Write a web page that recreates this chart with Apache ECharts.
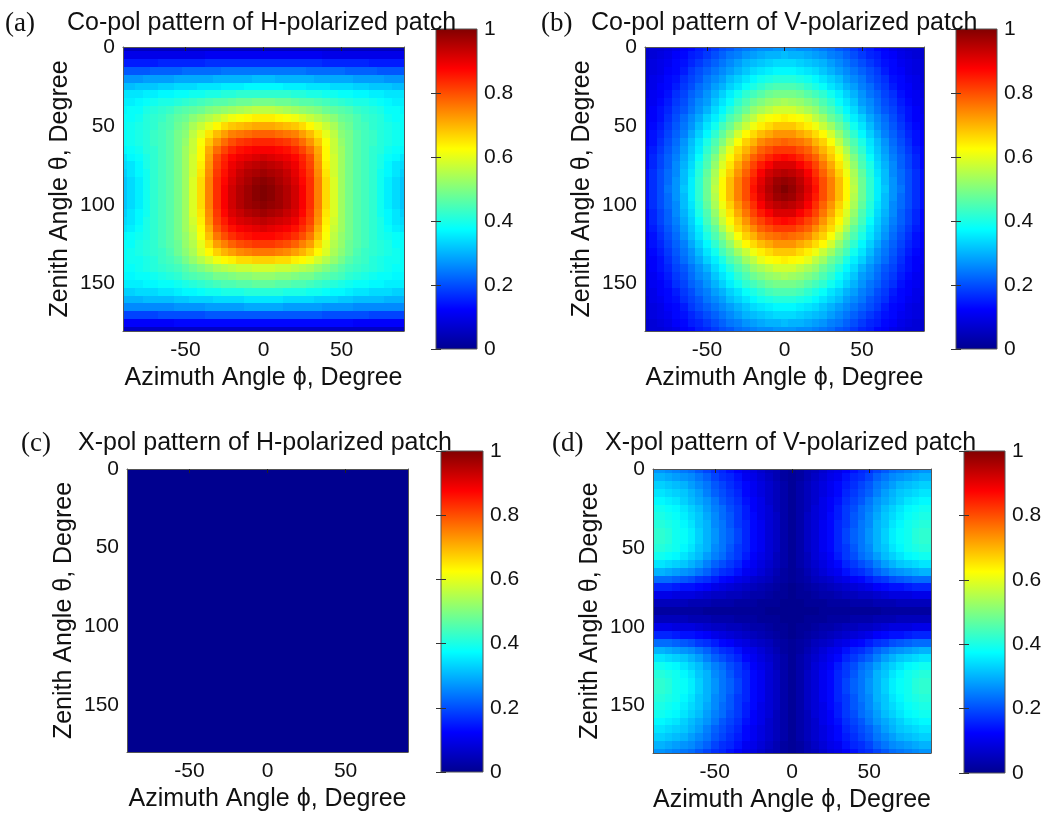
<!DOCTYPE html>
<html>
<head>
<meta charset="utf-8">
<title>Co-pol / X-pol patterns of H- and V-polarized patches</title>
<script src="https://cdn.jsdelivr.net/npm/echarts@6/dist/echarts.min.js"></script>
<style>
  html, body { margin: 0; padding: 0; background: #ffffff; }
  #chart { width: 1047px; height: 818px; }
</style>
</head>
<body>
<div id="chart"></div>
<script>
// Sampling grid of the normalised radiation patterns (degrees, 5 degree steps)
const phiDeg = [-90,-85,-80,-75,-70,-65,-60,-55,-50,-45,-40,-35,-30,-25,-20,-15,-10,-5,0,5,10,15,20,25,30,35,40,45,50,55,60,65,70,75,80,85,90];
const thetaDeg = [0,5,10,15,20,25,30,35,40,45,50,55,60,65,70,75,80,85,90,95,100,105,110,115,120,125,130,135,140,145,150,155,160,165,170,175,180];

// Axis tick labels
const phiTicks   = [-50, 0, 50];
const thetaTicks = [0, 50, 100, 150];
const barTicks   = [0, 0.2, 0.4, 0.6, 0.8, 1];
const barRange   = [0, 1];

// Panel captions
const panelTags   = ['(a)', '(b)', '(c)', '(d)'];
const panelTitles = [
  'Co-pol pattern of H-polarized patch',
  'Co-pol pattern of V-polarized patch',
  'X-pol pattern of H-polarized patch',
  'X-pol pattern of V-polarized patch'
];
const xAxisName = 'Azimuth Angle \u03D5, Degree';
const yAxisName = 'Zenith Angle \u03B8, Degree';

// (a) co-pol, H-polarized patch: one row per theta, one column per phi
const copolH = [
  [.05,.05,.05,.05,.05,.05,.05,.05,.05,.05,.05,.05,.05,.05,.05,.05,.05,.05,.05,.05,.05,.05,.05,.05,.05,.05,.05,.05,.05,.05,.05,.05,.05,.05,.05,.05,.05],
  [.10,.10,.10,.10,.10,.10,.10,.10,.10,.10,.10,.11,.11,.11,.11,.11,.11,.11,.11,.11,.11,.11,.11,.11,.11,.11,.10,.10,.10,.10,.10,.10,.10,.10,.10,.10,.10],
  [.15,.15,.15,.15,.15,.16,.16,.16,.16,.16,.16,.17,.17,.17,.17,.17,.17,.17,.17,.17,.17,.17,.17,.17,.17,.17,.16,.16,.16,.16,.16,.16,.15,.15,.15,.15,.15],
  [.21,.21,.21,.21,.22,.22,.22,.22,.23,.23,.23,.23,.23,.24,.24,.24,.24,.24,.24,.24,.24,.24,.24,.24,.23,.23,.23,.23,.23,.22,.22,.22,.22,.21,.21,.21,.21],
  [.27,.27,.27,.28,.28,.28,.28,.29,.29,.29,.29,.29,.30,.30,.30,.30,.30,.31,.31,.31,.30,.30,.30,.30,.30,.29,.29,.29,.29,.29,.28,.28,.28,.28,.27,.27,.27],
  [.31,.31,.32,.32,.32,.33,.33,.34,.34,.34,.35,.35,.35,.36,.36,.36,.37,.37,.37,.37,.37,.36,.36,.36,.35,.35,.35,.34,.34,.34,.33,.33,.32,.32,.32,.31,.31],
  [.35,.35,.35,.36,.36,.37,.37,.38,.38,.39,.39,.40,.40,.41,.41,.42,.42,.42,.42,.42,.42,.42,.41,.41,.40,.40,.39,.39,.38,.38,.37,.37,.36,.36,.35,.35,.35],
  [.36,.36,.37,.38,.39,.40,.40,.41,.42,.43,.44,.45,.46,.46,.47,.48,.48,.49,.49,.49,.48,.48,.47,.46,.46,.45,.44,.43,.42,.41,.40,.40,.39,.38,.37,.36,.36],
  [.37,.38,.38,.40,.41,.42,.43,.45,.46,.47,.48,.50,.51,.52,.53,.54,.55,.56,.56,.56,.55,.54,.53,.52,.51,.50,.48,.47,.46,.45,.43,.42,.41,.40,.38,.38,.37],
  [.38,.38,.39,.41,.42,.43,.45,.47,.48,.51,.53,.55,.57,.59,.61,.62,.63,.64,.64,.64,.63,.62,.61,.59,.57,.55,.53,.51,.48,.47,.45,.43,.42,.41,.39,.38,.38],
  [.38,.39,.40,.41,.42,.44,.45,.48,.50,.54,.57,.60,.63,.66,.68,.69,.70,.71,.71,.71,.70,.69,.68,.66,.63,.60,.57,.54,.50,.48,.45,.44,.42,.41,.40,.39,.38],
  [.38,.39,.40,.41,.43,.44,.46,.49,.51,.56,.60,.65,.69,.72,.75,.76,.77,.78,.78,.78,.77,.76,.75,.72,.69,.65,.60,.56,.51,.49,.46,.44,.43,.41,.40,.39,.38],
  [.38,.39,.40,.41,.43,.44,.46,.49,.52,.57,.62,.68,.73,.77,.80,.82,.83,.84,.84,.84,.83,.82,.80,.77,.73,.68,.62,.57,.52,.49,.46,.44,.43,.41,.40,.39,.38],
  [.37,.38,.39,.41,.42,.44,.46,.49,.53,.57,.63,.71,.77,.81,.84,.86,.87,.88,.88,.88,.87,.86,.84,.81,.77,.71,.63,.57,.53,.49,.46,.44,.42,.41,.39,.38,.37],
  [.35,.37,.38,.40,.42,.44,.46,.49,.53,.58,.63,.72,.80,.84,.87,.89,.90,.91,.92,.91,.90,.89,.87,.84,.80,.72,.63,.58,.53,.49,.46,.44,.42,.40,.38,.37,.35],
  [.34,.35,.37,.40,.42,.44,.46,.49,.53,.58,.64,.73,.81,.85,.89,.91,.93,.94,.95,.94,.93,.91,.89,.85,.81,.73,.64,.58,.53,.49,.46,.44,.42,.40,.37,.35,.34],
  [.33,.35,.37,.39,.42,.44,.46,.49,.53,.58,.65,.74,.82,.86,.90,.93,.95,.96,.97,.96,.95,.93,.90,.86,.82,.74,.65,.58,.53,.49,.46,.44,.42,.39,.37,.35,.33],
  [.32,.34,.36,.39,.42,.44,.46,.49,.53,.59,.66,.75,.83,.87,.91,.94,.96,.98,.99,.98,.96,.94,.91,.87,.83,.75,.66,.59,.53,.49,.46,.44,.42,.39,.36,.34,.32],
  [.32,.34,.36,.39,.42,.44,.46,.49,.53,.59,.66,.75,.83,.88,.92,.95,.97,.99,1.0,.99,.97,.95,.92,.88,.83,.75,.66,.59,.53,.49,.46,.44,.42,.39,.36,.34,.32],
  [.32,.34,.36,.39,.42,.44,.46,.49,.53,.59,.66,.75,.83,.88,.92,.95,.97,.99,1.0,.99,.97,.95,.92,.88,.83,.75,.66,.59,.53,.49,.46,.44,.42,.39,.36,.34,.32],
  [.32,.34,.36,.39,.42,.44,.46,.49,.53,.59,.66,.75,.83,.88,.92,.95,.97,.98,.99,.98,.97,.95,.92,.88,.83,.75,.66,.59,.53,.49,.46,.44,.42,.39,.36,.34,.32],
  [.33,.35,.37,.39,.42,.44,.46,.49,.53,.59,.65,.74,.82,.87,.91,.93,.95,.96,.97,.96,.95,.93,.91,.87,.82,.74,.65,.59,.53,.49,.46,.44,.42,.39,.37,.35,.33],
  [.34,.35,.37,.40,.42,.44,.46,.49,.53,.58,.64,.73,.81,.85,.89,.91,.92,.93,.94,.93,.92,.91,.89,.85,.81,.73,.64,.58,.53,.49,.46,.44,.42,.40,.37,.35,.34],
  [.35,.36,.38,.40,.42,.44,.46,.49,.53,.57,.63,.71,.79,.83,.86,.88,.89,.90,.91,.90,.89,.88,.86,.83,.79,.71,.63,.57,.53,.49,.46,.44,.42,.40,.38,.36,.35],
  [.37,.38,.39,.40,.42,.44,.46,.49,.52,.56,.62,.69,.76,.80,.83,.85,.86,.87,.87,.87,.86,.85,.83,.80,.76,.69,.62,.56,.52,.49,.46,.44,.42,.40,.39,.38,.37],
  [.38,.38,.40,.41,.42,.44,.46,.48,.52,.55,.60,.66,.72,.75,.78,.80,.81,.82,.82,.82,.81,.80,.78,.75,.72,.66,.60,.55,.52,.48,.46,.44,.42,.41,.40,.38,.38],
  [.38,.39,.40,.41,.42,.43,.45,.48,.51,.54,.59,.63,.67,.70,.72,.74,.75,.76,.76,.76,.75,.74,.72,.70,.67,.63,.59,.54,.51,.48,.45,.43,.42,.41,.40,.39,.38],
  [.38,.39,.39,.40,.41,.43,.44,.46,.49,.52,.55,.58,.61,.63,.64,.66,.66,.67,.67,.67,.66,.66,.64,.63,.61,.58,.55,.52,.49,.46,.44,.43,.41,.40,.39,.39,.38],
  [.38,.38,.39,.40,.41,.42,.43,.44,.46,.48,.50,.52,.54,.55,.56,.57,.57,.58,.58,.58,.57,.57,.56,.55,.54,.52,.50,.48,.46,.44,.43,.42,.41,.40,.39,.38,.38],
  [.37,.37,.38,.38,.39,.40,.41,.42,.44,.45,.46,.47,.49,.49,.50,.51,.51,.52,.52,.52,.51,.51,.50,.49,.49,.47,.46,.45,.44,.42,.41,.40,.39,.38,.38,.37,.37],
  [.36,.36,.36,.37,.37,.38,.38,.39,.40,.41,.42,.43,.44,.45,.45,.46,.46,.47,.47,.47,.46,.46,.45,.45,.44,.43,.42,.41,.40,.39,.38,.38,.37,.37,.36,.36,.36],
  [.33,.33,.34,.34,.34,.35,.35,.36,.37,.37,.38,.39,.39,.40,.40,.40,.41,.41,.41,.41,.41,.40,.40,.40,.39,.39,.38,.37,.37,.36,.35,.35,.34,.34,.34,.33,.33],
  [.30,.30,.30,.31,.31,.31,.31,.32,.32,.33,.33,.33,.34,.34,.34,.34,.35,.35,.35,.35,.35,.34,.34,.34,.34,.33,.33,.33,.32,.32,.31,.31,.31,.31,.30,.30,.30],
  [.26,.26,.26,.26,.26,.26,.26,.27,.27,.27,.27,.28,.28,.28,.28,.28,.29,.29,.29,.29,.29,.28,.28,.28,.28,.28,.27,.27,.27,.27,.26,.26,.26,.26,.26,.26,.26],
  [.19,.19,.19,.19,.19,.20,.20,.20,.20,.20,.20,.21,.21,.21,.21,.21,.21,.21,.21,.21,.21,.21,.21,.21,.21,.21,.20,.20,.20,.20,.20,.20,.19,.19,.19,.19,.19],
  [.12,.12,.12,.12,.12,.12,.12,.13,.13,.13,.13,.13,.13,.13,.13,.13,.13,.13,.13,.13,.13,.13,.13,.13,.13,.13,.13,.13,.13,.13,.12,.12,.12,.12,.12,.12,.12],
  [.06,.06,.06,.06,.06,.06,.06,.06,.06,.06,.06,.06,.06,.06,.06,.06,.06,.06,.06,.06,.06,.06,.06,.06,.06,.06,.06,.06,.06,.06,.06,.06,.06,.06,.06,.06,.06]
];

// (b) co-pol, V-polarized patch
const copolV = [
  [.07,.08,.08,.09,.10,.12,.13,.15,.16,.18,.20,.21,.23,.24,.25,.26,.26,.27,.27,.27,.26,.26,.25,.24,.23,.21,.20,.18,.16,.15,.13,.12,.10,.09,.08,.08,.07],
  [.07,.08,.09,.10,.12,.13,.15,.16,.18,.20,.22,.24,.25,.27,.28,.29,.30,.30,.31,.30,.30,.29,.28,.27,.25,.24,.22,.20,.18,.16,.15,.13,.12,.10,.09,.08,.07],
  [.08,.09,.10,.11,.13,.14,.16,.18,.20,.22,.24,.26,.28,.30,.31,.32,.33,.34,.34,.34,.33,.32,.31,.30,.28,.26,.24,.22,.20,.18,.16,.14,.13,.11,.10,.09,.08],
  [.08,.09,.10,.12,.13,.15,.18,.20,.22,.24,.26,.28,.30,.32,.34,.35,.36,.37,.37,.37,.36,.35,.34,.32,.30,.28,.26,.24,.22,.20,.18,.15,.13,.12,.10,.09,.08],
  [.08,.10,.11,.13,.14,.17,.19,.21,.24,.26,.28,.31,.33,.35,.37,.39,.40,.41,.41,.41,.40,.39,.37,.35,.33,.31,.28,.26,.24,.21,.19,.17,.14,.13,.11,.10,.08],
  [.09,.10,.12,.13,.15,.18,.20,.23,.25,.28,.30,.33,.35,.38,.40,.42,.44,.45,.45,.45,.44,.42,.40,.38,.35,.33,.30,.28,.25,.23,.20,.18,.15,.13,.12,.10,.09],
  [.09,.11,.12,.14,.17,.19,.22,.24,.27,.30,.33,.36,.39,.42,.44,.46,.48,.49,.49,.49,.48,.46,.44,.42,.39,.36,.33,.30,.27,.24,.22,.19,.17,.14,.12,.11,.09],
  [.10,.11,.13,.15,.18,.20,.23,.26,.28,.32,.35,.38,.42,.45,.48,.50,.52,.53,.54,.53,.52,.50,.48,.45,.42,.38,.35,.32,.28,.26,.23,.20,.18,.15,.13,.11,.10],
  [.10,.12,.14,.16,.19,.21,.24,.27,.30,.34,.37,.41,.45,.48,.52,.54,.56,.58,.58,.58,.56,.54,.52,.48,.45,.41,.37,.34,.30,.27,.24,.21,.19,.16,.14,.12,.10],
  [.11,.12,.14,.17,.20,.23,.26,.29,.33,.36,.40,.45,.48,.53,.56,.60,.62,.63,.64,.63,.62,.60,.56,.53,.48,.45,.40,.36,.33,.29,.26,.23,.20,.17,.14,.12,.11],
  [.11,.13,.15,.18,.21,.24,.27,.31,.35,.39,.44,.48,.53,.57,.61,.64,.66,.68,.68,.68,.66,.64,.61,.57,.53,.48,.44,.39,.35,.31,.27,.24,.21,.18,.15,.13,.11],
  [.12,.14,.16,.19,.22,.25,.29,.33,.37,.42,.47,.52,.58,.63,.66,.69,.71,.73,.73,.73,.71,.69,.66,.63,.58,.52,.47,.42,.37,.33,.29,.25,.22,.19,.16,.14,.12],
  [.12,.14,.17,.20,.23,.27,.31,.35,.40,.45,.50,.56,.62,.67,.70,.74,.76,.77,.78,.77,.76,.74,.70,.67,.62,.56,.50,.45,.40,.35,.31,.27,.23,.20,.17,.14,.12],
  [.13,.15,.18,.21,.24,.28,.32,.36,.42,.47,.54,.60,.66,.70,.74,.78,.80,.82,.82,.82,.80,.78,.74,.70,.66,.60,.54,.47,.42,.36,.32,.28,.24,.21,.18,.15,.13],
  [.13,.16,.19,.22,.25,.29,.33,.38,.44,.50,.57,.63,.68,.73,.78,.81,.84,.86,.87,.86,.84,.81,.78,.73,.68,.63,.57,.50,.44,.38,.33,.29,.25,.22,.19,.16,.13],
  [.13,.16,.19,.22,.26,.30,.34,.40,.45,.52,.59,.65,.71,.76,.81,.85,.88,.91,.91,.91,.88,.85,.81,.76,.71,.65,.59,.52,.45,.40,.34,.30,.26,.22,.19,.16,.13],
  [.14,.17,.20,.23,.26,.31,.35,.41,.47,.54,.61,.67,.73,.78,.83,.88,.92,.94,.95,.94,.92,.88,.83,.78,.73,.67,.61,.54,.47,.41,.35,.31,.26,.23,.20,.17,.14],
  [.14,.17,.20,.23,.27,.31,.36,.42,.48,.55,.63,.69,.75,.80,.85,.90,.94,.97,.98,.97,.94,.90,.85,.80,.75,.69,.63,.55,.48,.42,.36,.31,.27,.23,.20,.17,.14],
  [.14,.17,.20,.24,.27,.32,.36,.42,.48,.56,.63,.69,.75,.80,.86,.91,.95,.98,1.0,.98,.95,.91,.86,.80,.75,.69,.63,.56,.48,.42,.36,.32,.27,.24,.20,.17,.14],
  [.14,.17,.20,.23,.27,.31,.36,.42,.48,.55,.63,.69,.75,.80,.85,.90,.94,.97,.98,.97,.94,.90,.85,.80,.75,.69,.63,.55,.48,.42,.36,.31,.27,.23,.20,.17,.14],
  [.14,.17,.20,.23,.26,.31,.35,.41,.47,.54,.61,.67,.73,.78,.83,.88,.92,.94,.95,.94,.92,.88,.83,.78,.73,.67,.61,.54,.47,.41,.35,.31,.26,.23,.20,.17,.14],
  [.13,.16,.19,.22,.26,.30,.34,.40,.45,.52,.59,.65,.71,.76,.81,.85,.88,.91,.91,.91,.88,.85,.81,.76,.71,.65,.59,.52,.45,.40,.34,.30,.26,.22,.19,.16,.13],
  [.13,.16,.19,.22,.25,.29,.33,.38,.44,.50,.57,.63,.68,.73,.78,.81,.84,.86,.87,.86,.84,.81,.78,.73,.68,.63,.57,.50,.44,.38,.33,.29,.25,.22,.19,.16,.13],
  [.13,.15,.18,.21,.24,.28,.32,.36,.42,.47,.54,.60,.66,.70,.74,.78,.80,.82,.82,.82,.80,.78,.74,.70,.66,.60,.54,.47,.42,.36,.32,.28,.24,.21,.18,.15,.13],
  [.12,.14,.17,.20,.23,.27,.31,.35,.40,.45,.50,.56,.62,.67,.70,.74,.76,.77,.78,.77,.76,.74,.70,.67,.62,.56,.50,.45,.40,.35,.31,.27,.23,.20,.17,.14,.12],
  [.12,.14,.16,.19,.22,.25,.29,.33,.37,.42,.47,.52,.58,.63,.66,.69,.71,.73,.73,.73,.71,.69,.66,.63,.58,.52,.47,.42,.37,.33,.29,.25,.22,.19,.16,.14,.12],
  [.11,.13,.15,.18,.21,.24,.27,.31,.35,.39,.44,.48,.53,.57,.61,.64,.66,.68,.68,.68,.66,.64,.61,.57,.53,.48,.44,.39,.35,.31,.27,.24,.21,.18,.15,.13,.11],
  [.11,.12,.14,.17,.20,.23,.26,.29,.33,.36,.40,.45,.48,.53,.56,.60,.62,.63,.64,.63,.62,.60,.56,.53,.48,.45,.40,.36,.33,.29,.26,.23,.20,.17,.14,.12,.11],
  [.10,.12,.14,.16,.19,.21,.24,.27,.30,.34,.37,.41,.45,.48,.52,.54,.56,.58,.58,.58,.56,.54,.52,.48,.45,.41,.37,.34,.30,.27,.24,.21,.19,.16,.14,.12,.10],
  [.10,.11,.13,.15,.18,.20,.23,.26,.28,.32,.35,.38,.42,.45,.48,.50,.52,.53,.54,.53,.52,.50,.48,.45,.42,.38,.35,.32,.28,.26,.23,.20,.18,.15,.13,.11,.10],
  [.09,.11,.12,.14,.17,.19,.22,.24,.27,.30,.33,.36,.39,.42,.44,.46,.48,.49,.49,.49,.48,.46,.44,.42,.39,.36,.33,.30,.27,.24,.22,.19,.17,.14,.12,.11,.09],
  [.09,.10,.12,.13,.15,.18,.20,.23,.25,.28,.30,.33,.35,.38,.40,.42,.44,.45,.45,.45,.44,.42,.40,.38,.35,.33,.30,.28,.25,.23,.20,.18,.15,.13,.12,.10,.09],
  [.08,.10,.11,.13,.14,.17,.19,.21,.24,.26,.28,.31,.33,.35,.37,.39,.40,.41,.41,.41,.40,.39,.37,.35,.33,.31,.28,.26,.24,.21,.19,.17,.14,.13,.11,.10,.08],
  [.08,.09,.10,.12,.13,.15,.18,.20,.22,.24,.26,.28,.30,.32,.34,.35,.36,.37,.37,.37,.36,.35,.34,.32,.30,.28,.26,.24,.22,.20,.18,.15,.13,.12,.10,.09,.08],
  [.08,.09,.10,.11,.13,.14,.16,.18,.20,.22,.24,.26,.28,.30,.31,.32,.33,.34,.34,.34,.33,.32,.31,.30,.28,.26,.24,.22,.20,.18,.16,.14,.13,.11,.10,.09,.08],
  [.07,.08,.09,.10,.12,.13,.15,.16,.18,.20,.22,.24,.25,.27,.28,.29,.30,.30,.31,.30,.30,.29,.28,.27,.25,.24,.22,.20,.18,.16,.15,.13,.12,.10,.09,.08,.07],
  [.07,.08,.08,.09,.10,.12,.13,.15,.16,.18,.20,.21,.23,.24,.25,.26,.26,.27,.27,.27,.26,.26,.25,.24,.23,.21,.20,.18,.16,.15,.13,.12,.10,.09,.08,.08,.07]
];

// (c) cross-pol, H-polarized patch: no measurable cross-polar radiation
const xpolH = [
  [0,0,0,0,0,0,0,0,0,0,0,0,0,0,0,0,0,0,0,0,0,0,0,0,0,0,0,0,0,0,0,0,0,0,0,0,0],
  [0,0,0,0,0,0,0,0,0,0,0,0,0,0,0,0,0,0,0,0,0,0,0,0,0,0,0,0,0,0,0,0,0,0,0,0,0],
  [0,0,0,0,0,0,0,0,0,0,0,0,0,0,0,0,0,0,0,0,0,0,0,0,0,0,0,0,0,0,0,0,0,0,0,0,0],
  [0,0,0,0,0,0,0,0,0,0,0,0,0,0,0,0,0,0,0,0,0,0,0,0,0,0,0,0,0,0,0,0,0,0,0,0,0],
  [0,0,0,0,0,0,0,0,0,0,0,0,0,0,0,0,0,0,0,0,0,0,0,0,0,0,0,0,0,0,0,0,0,0,0,0,0],
  [0,0,0,0,0,0,0,0,0,0,0,0,0,0,0,0,0,0,0,0,0,0,0,0,0,0,0,0,0,0,0,0,0,0,0,0,0],
  [0,0,0,0,0,0,0,0,0,0,0,0,0,0,0,0,0,0,0,0,0,0,0,0,0,0,0,0,0,0,0,0,0,0,0,0,0],
  [0,0,0,0,0,0,0,0,0,0,0,0,0,0,0,0,0,0,0,0,0,0,0,0,0,0,0,0,0,0,0,0,0,0,0,0,0],
  [0,0,0,0,0,0,0,0,0,0,0,0,0,0,0,0,0,0,0,0,0,0,0,0,0,0,0,0,0,0,0,0,0,0,0,0,0],
  [0,0,0,0,0,0,0,0,0,0,0,0,0,0,0,0,0,0,0,0,0,0,0,0,0,0,0,0,0,0,0,0,0,0,0,0,0],
  [0,0,0,0,0,0,0,0,0,0,0,0,0,0,0,0,0,0,0,0,0,0,0,0,0,0,0,0,0,0,0,0,0,0,0,0,0],
  [0,0,0,0,0,0,0,0,0,0,0,0,0,0,0,0,0,0,0,0,0,0,0,0,0,0,0,0,0,0,0,0,0,0,0,0,0],
  [0,0,0,0,0,0,0,0,0,0,0,0,0,0,0,0,0,0,0,0,0,0,0,0,0,0,0,0,0,0,0,0,0,0,0,0,0],
  [0,0,0,0,0,0,0,0,0,0,0,0,0,0,0,0,0,0,0,0,0,0,0,0,0,0,0,0,0,0,0,0,0,0,0,0,0],
  [0,0,0,0,0,0,0,0,0,0,0,0,0,0,0,0,0,0,0,0,0,0,0,0,0,0,0,0,0,0,0,0,0,0,0,0,0],
  [0,0,0,0,0,0,0,0,0,0,0,0,0,0,0,0,0,0,0,0,0,0,0,0,0,0,0,0,0,0,0,0,0,0,0,0,0],
  [0,0,0,0,0,0,0,0,0,0,0,0,0,0,0,0,0,0,0,0,0,0,0,0,0,0,0,0,0,0,0,0,0,0,0,0,0],
  [0,0,0,0,0,0,0,0,0,0,0,0,0,0,0,0,0,0,0,0,0,0,0,0,0,0,0,0,0,0,0,0,0,0,0,0,0],
  [0,0,0,0,0,0,0,0,0,0,0,0,0,0,0,0,0,0,0,0,0,0,0,0,0,0,0,0,0,0,0,0,0,0,0,0,0],
  [0,0,0,0,0,0,0,0,0,0,0,0,0,0,0,0,0,0,0,0,0,0,0,0,0,0,0,0,0,0,0,0,0,0,0,0,0],
  [0,0,0,0,0,0,0,0,0,0,0,0,0,0,0,0,0,0,0,0,0,0,0,0,0,0,0,0,0,0,0,0,0,0,0,0,0],
  [0,0,0,0,0,0,0,0,0,0,0,0,0,0,0,0,0,0,0,0,0,0,0,0,0,0,0,0,0,0,0,0,0,0,0,0,0],
  [0,0,0,0,0,0,0,0,0,0,0,0,0,0,0,0,0,0,0,0,0,0,0,0,0,0,0,0,0,0,0,0,0,0,0,0,0],
  [0,0,0,0,0,0,0,0,0,0,0,0,0,0,0,0,0,0,0,0,0,0,0,0,0,0,0,0,0,0,0,0,0,0,0,0,0],
  [0,0,0,0,0,0,0,0,0,0,0,0,0,0,0,0,0,0,0,0,0,0,0,0,0,0,0,0,0,0,0,0,0,0,0,0,0],
  [0,0,0,0,0,0,0,0,0,0,0,0,0,0,0,0,0,0,0,0,0,0,0,0,0,0,0,0,0,0,0,0,0,0,0,0,0],
  [0,0,0,0,0,0,0,0,0,0,0,0,0,0,0,0,0,0,0,0,0,0,0,0,0,0,0,0,0,0,0,0,0,0,0,0,0],
  [0,0,0,0,0,0,0,0,0,0,0,0,0,0,0,0,0,0,0,0,0,0,0,0,0,0,0,0,0,0,0,0,0,0,0,0,0],
  [0,0,0,0,0,0,0,0,0,0,0,0,0,0,0,0,0,0,0,0,0,0,0,0,0,0,0,0,0,0,0,0,0,0,0,0,0],
  [0,0,0,0,0,0,0,0,0,0,0,0,0,0,0,0,0,0,0,0,0,0,0,0,0,0,0,0,0,0,0,0,0,0,0,0,0],
  [0,0,0,0,0,0,0,0,0,0,0,0,0,0,0,0,0,0,0,0,0,0,0,0,0,0,0,0,0,0,0,0,0,0,0,0,0],
  [0,0,0,0,0,0,0,0,0,0,0,0,0,0,0,0,0,0,0,0,0,0,0,0,0,0,0,0,0,0,0,0,0,0,0,0,0],
  [0,0,0,0,0,0,0,0,0,0,0,0,0,0,0,0,0,0,0,0,0,0,0,0,0,0,0,0,0,0,0,0,0,0,0,0,0],
  [0,0,0,0,0,0,0,0,0,0,0,0,0,0,0,0,0,0,0,0,0,0,0,0,0,0,0,0,0,0,0,0,0,0,0,0,0],
  [0,0,0,0,0,0,0,0,0,0,0,0,0,0,0,0,0,0,0,0,0,0,0,0,0,0,0,0,0,0,0,0,0,0,0,0,0],
  [0,0,0,0,0,0,0,0,0,0,0,0,0,0,0,0,0,0,0,0,0,0,0,0,0,0,0,0,0,0,0,0,0,0,0,0,0],
  [0,0,0,0,0,0,0,0,0,0,0,0,0,0,0,0,0,0,0,0,0,0,0,0,0,0,0,0,0,0,0,0,0,0,0,0,0]
];

// (d) cross-pol, V-polarized patch
const xpolV = [
  [.27,.27,.26,.25,.24,.23,.21,.19,.17,.16,.14,.12,.10,.09,.07,.05,.04,.02,.01,.02,.04,.05,.07,.09,.10,.12,.14,.16,.17,.19,.21,.23,.24,.25,.26,.27,.27],
  [.30,.30,.29,.28,.27,.26,.24,.22,.19,.17,.16,.14,.11,.10,.08,.06,.04,.02,.01,.02,.04,.06,.08,.10,.11,.14,.16,.17,.19,.22,.24,.26,.27,.28,.29,.30,.30],
  [.33,.33,.32,.31,.30,.28,.26,.24,.21,.19,.17,.15,.13,.11,.09,.07,.05,.03,.01,.03,.05,.07,.09,.11,.13,.15,.17,.19,.21,.24,.26,.28,.30,.31,.32,.33,.33],
  [.35,.35,.34,.33,.32,.30,.28,.25,.22,.20,.18,.16,.13,.11,.09,.07,.05,.03,.01,.03,.05,.07,.09,.11,.13,.16,.18,.20,.22,.25,.28,.30,.32,.33,.34,.35,.35],
  [.37,.37,.36,.35,.33,.31,.29,.27,.24,.21,.19,.17,.14,.12,.10,.07,.05,.03,.01,.03,.05,.07,.10,.12,.14,.17,.19,.21,.24,.27,.29,.31,.33,.35,.36,.37,.37],
  [.39,.39,.38,.37,.35,.33,.31,.28,.25,.23,.20,.18,.15,.12,.10,.08,.05,.03,.01,.03,.05,.08,.10,.12,.15,.18,.20,.23,.25,.28,.31,.33,.35,.37,.38,.39,.39],
  [.40,.40,.39,.38,.36,.34,.32,.29,.26,.23,.21,.18,.15,.13,.10,.08,.06,.03,.01,.03,.06,.08,.10,.13,.15,.18,.21,.23,.26,.29,.32,.34,.36,.38,.39,.40,.40],
  [.41,.41,.40,.39,.37,.35,.32,.30,.26,.24,.21,.18,.16,.13,.11,.08,.06,.03,.01,.03,.06,.08,.11,.13,.16,.18,.21,.24,.26,.30,.32,.35,.37,.39,.40,.41,.41],
  [.42,.42,.41,.39,.38,.36,.33,.30,.27,.24,.22,.19,.16,.13,.11,.08,.06,.03,.01,.03,.06,.08,.11,.13,.16,.19,.22,.24,.27,.30,.33,.36,.38,.39,.41,.42,.42],
  [.42,.42,.41,.39,.38,.36,.33,.30,.27,.24,.22,.19,.16,.13,.11,.08,.06,.03,.01,.03,.06,.08,.11,.13,.16,.19,.22,.24,.27,.30,.33,.36,.38,.39,.41,.42,.42],
  [.41,.41,.40,.39,.37,.35,.32,.30,.26,.24,.21,.18,.16,.13,.11,.08,.06,.03,.01,.03,.06,.08,.11,.13,.16,.18,.21,.24,.26,.30,.32,.35,.37,.39,.40,.41,.41],
  [.39,.39,.38,.37,.35,.33,.31,.28,.25,.23,.20,.18,.15,.12,.10,.08,.05,.03,.01,.03,.05,.08,.10,.12,.15,.18,.20,.23,.25,.28,.31,.33,.35,.37,.38,.39,.39],
  [.35,.35,.34,.33,.32,.30,.28,.25,.22,.20,.18,.16,.13,.11,.09,.07,.05,.03,.01,.03,.05,.07,.09,.11,.13,.16,.18,.20,.22,.25,.28,.30,.32,.33,.34,.35,.35],
  [.30,.30,.29,.28,.27,.26,.24,.22,.19,.17,.16,.14,.11,.10,.08,.06,.04,.02,.01,.02,.04,.06,.08,.10,.11,.14,.16,.17,.19,.22,.24,.26,.27,.28,.29,.30,.30],
  [.23,.23,.23,.22,.21,.20,.18,.17,.15,.13,.12,.10,.09,.07,.06,.05,.03,.02,.01,.02,.03,.05,.06,.07,.09,.10,.12,.13,.15,.17,.18,.20,.21,.22,.23,.23,.23],
  [.16,.16,.16,.15,.14,.14,.13,.12,.10,.09,.08,.07,.06,.05,.04,.03,.02,.01,0,.01,.02,.03,.04,.05,.06,.07,.08,.09,.10,.12,.13,.14,.14,.15,.16,.16,.16],
  [.10,.10,.10,.09,.09,.09,.08,.07,.06,.06,.05,.05,.04,.03,.03,.02,.01,.01,0,.01,.01,.02,.03,.03,.04,.05,.05,.06,.06,.07,.08,.09,.09,.09,.10,.10,.10],
  [.05,.05,.05,.05,.05,.04,.04,.04,.03,.03,.03,.02,.02,.02,.01,.01,.01,0,0,0,.01,.01,.01,.02,.02,.02,.03,.03,.03,.04,.04,.04,.05,.05,.05,.05,.05],
  [.02,.02,.02,.02,.02,.02,.02,.01,.01,.01,.01,.01,.01,.01,.01,0,0,0,0,0,0,0,.01,.01,.01,.01,.01,.01,.01,.01,.02,.02,.02,.02,.02,.02,.02],
  [.05,.05,.05,.05,.05,.04,.04,.04,.03,.03,.03,.02,.02,.02,.01,.01,.01,0,0,0,.01,.01,.01,.02,.02,.02,.03,.03,.03,.04,.04,.04,.05,.05,.05,.05,.05],
  [.10,.10,.10,.09,.09,.09,.08,.07,.06,.06,.05,.05,.04,.03,.03,.02,.01,.01,0,.01,.01,.02,.03,.03,.04,.05,.05,.06,.06,.07,.08,.09,.09,.09,.10,.10,.10],
  [.16,.16,.16,.15,.14,.14,.13,.12,.10,.09,.08,.07,.06,.05,.04,.03,.02,.01,0,.01,.02,.03,.04,.05,.06,.07,.08,.09,.10,.12,.13,.14,.14,.15,.16,.16,.16],
  [.23,.23,.23,.22,.21,.20,.18,.17,.15,.13,.12,.10,.09,.07,.06,.05,.03,.02,.01,.02,.03,.05,.06,.07,.09,.10,.12,.13,.15,.17,.18,.20,.21,.22,.23,.23,.23],
  [.30,.30,.29,.28,.27,.26,.24,.22,.19,.17,.16,.14,.11,.10,.08,.06,.04,.02,.01,.02,.04,.06,.08,.10,.11,.14,.16,.17,.19,.22,.24,.26,.27,.28,.29,.30,.30],
  [.35,.35,.34,.33,.32,.30,.28,.25,.22,.20,.18,.16,.13,.11,.09,.07,.05,.03,.01,.03,.05,.07,.09,.11,.13,.16,.18,.20,.22,.25,.28,.30,.32,.33,.34,.35,.35],
  [.39,.39,.38,.37,.35,.33,.31,.28,.25,.23,.20,.18,.15,.12,.10,.08,.05,.03,.01,.03,.05,.08,.10,.12,.15,.18,.20,.23,.25,.28,.31,.33,.35,.37,.38,.39,.39],
  [.41,.41,.40,.39,.37,.35,.32,.30,.26,.24,.21,.18,.16,.13,.11,.08,.06,.03,.01,.03,.06,.08,.11,.13,.16,.18,.21,.24,.26,.30,.32,.35,.37,.39,.40,.41,.41],
  [.42,.42,.41,.39,.38,.36,.33,.30,.27,.24,.22,.19,.16,.13,.11,.08,.06,.03,.01,.03,.06,.08,.11,.13,.16,.19,.22,.24,.27,.30,.33,.36,.38,.39,.41,.42,.42],
  [.42,.42,.41,.39,.38,.36,.33,.30,.27,.24,.22,.19,.16,.13,.11,.08,.06,.03,.01,.03,.06,.08,.11,.13,.16,.19,.22,.24,.27,.30,.33,.36,.38,.39,.41,.42,.42],
  [.41,.41,.40,.39,.37,.35,.32,.30,.26,.24,.21,.18,.16,.13,.11,.08,.06,.03,.01,.03,.06,.08,.11,.13,.16,.18,.21,.24,.26,.30,.32,.35,.37,.39,.40,.41,.41],
  [.40,.40,.39,.38,.36,.34,.32,.29,.26,.23,.21,.18,.15,.13,.10,.08,.06,.03,.01,.03,.06,.08,.10,.13,.15,.18,.21,.23,.26,.29,.32,.34,.36,.38,.39,.40,.40],
  [.39,.39,.38,.37,.35,.33,.31,.28,.25,.23,.20,.18,.15,.12,.10,.08,.05,.03,.01,.03,.05,.08,.10,.12,.15,.18,.20,.23,.25,.28,.31,.33,.35,.37,.38,.39,.39],
  [.37,.37,.36,.35,.33,.31,.29,.27,.24,.21,.19,.17,.14,.12,.10,.07,.05,.03,.01,.03,.05,.07,.10,.12,.14,.17,.19,.21,.24,.27,.29,.31,.33,.35,.36,.37,.37],
  [.35,.35,.34,.33,.32,.30,.28,.25,.22,.20,.18,.16,.13,.11,.09,.07,.05,.03,.01,.03,.05,.07,.09,.11,.13,.16,.18,.20,.22,.25,.28,.30,.32,.33,.34,.35,.35],
  [.33,.33,.32,.31,.30,.28,.26,.24,.21,.19,.17,.15,.13,.11,.09,.07,.05,.03,.01,.03,.05,.07,.09,.11,.13,.15,.17,.19,.21,.24,.26,.28,.30,.31,.32,.33,.33],
  [.30,.30,.29,.28,.27,.26,.24,.22,.19,.17,.16,.14,.11,.10,.08,.06,.04,.02,.01,.02,.04,.06,.08,.10,.11,.14,.16,.17,.19,.22,.24,.26,.27,.28,.29,.30,.30],
  [.27,.27,.26,.25,.24,.23,.21,.19,.17,.16,.14,.12,.10,.09,.07,.05,.04,.02,.01,.02,.04,.05,.07,.09,.10,.12,.14,.16,.17,.19,.21,.23,.24,.25,.26,.27,.27]
];

const fields = [copolH, copolV, xpolH, xpolV];

// ---- presentation ----
const JET = ['#00008F', '#0000FF', '#0080FF', '#00FFFF', '#80FF80', '#FFFF00', '#FF8000', '#FF0000', '#800000'];
const SANS  = "'Liberation Sans', Arial, Helvetica, sans-serif";
const SERIF = "'Liberation Serif', 'Times New Roman', serif";
const INK = '#111111';
const FRAME = '#555555';

// pixel layout of each panel: image area, colour bar, caption
const layout = [
  { plot: { left: 123, top: 47,  width: 281, height: 284 }, bar: { left: 436, top: 29,  width: 41, height: 320 }, tag: [5, 10],    title: [67, 11] },
  { plot: { left: 645, top: 47,  width: 279, height: 284 }, bar: { left: 956, top: 29,  width: 41, height: 320 }, tag: [541, 10],  title: [591, 11] },
  { plot: { left: 127, top: 469, width: 281, height: 283 }, bar: { left: 441, top: 451, width: 42, height: 321 }, tag: [21, 430],  title: [78, 431] },
  { plot: { left: 653, top: 469, width: 278, height: 284 }, bar: { left: 964, top: 451, width: 41, height: 322 }, tag: [552, 430], title: [605, 431] }
];

const PHI_MIN = phiDeg[0], PHI_MAX = phiDeg[phiDeg.length - 1];
const TH_MIN = thetaDeg[0], TH_MAX = thetaDeg[thetaDeg.length - 1];
const halfW = (phiDeg[1] - phiDeg[0]) / 2;
const halfH = (thetaDeg[1] - thetaDeg[0]) / 2;

function toCells(field) {
  const out = [];
  thetaDeg.forEach((th, i) => phiDeg.forEach((ph, j) => out.push([ph, th, field[i][j]])));
  return out;
}

// one image cell per sample, trimmed to the axis range and snapped to whole pixels
function renderCell(params, api) {
  const ph = api.value(0), th = api.value(1);
  const p0 = api.coord([Math.max(PHI_MIN, ph - halfW), Math.max(TH_MIN, th - halfH)]);
  const p1 = api.coord([Math.min(PHI_MAX, ph + halfW), Math.min(TH_MAX, th + halfH)]);
  const x0 = Math.round(Math.min(p0[0], p1[0])), x1 = Math.round(Math.max(p0[0], p1[0]));
  const y0 = Math.round(Math.min(p0[1], p1[1])), y1 = Math.round(Math.max(p0[1], p1[1]));
  return {
    type: 'rect',
    shape: { x: x0, y: y0, width: x1 - x0, height: y1 - y0 },
    style: { fill: api.visual('color') }
  };
}

// colour bar: a jet gradient spanning the bar's value range
function renderBar(params, api) {
  const p0 = api.coord([0, barRange[0]]);
  const p1 = api.coord([1, barRange[1]]);
  return {
    type: 'rect',
    shape: {
      x: Math.min(p0[0], p1[0]), y: Math.min(p0[1], p1[1]),
      width: Math.abs(p1[0] - p0[0]), height: Math.abs(p1[1] - p0[1])
    },
    style: {
      fill: new echarts.graphic.LinearGradient(0, 1, 0, 0,
        JET.map((color, i) => ({ offset: i / (JET.length - 1), color }))),
      stroke: FRAME, lineWidth: 1
    }
  };
}

const grid = [], xAxis = [], yAxis = [], series = [], title = [];
const lbl = { color: INK, fontSize: 21, fontFamily: SANS };

layout.forEach((L, k) => {
  const gPlot = grid.length;
  grid.push(Object.assign({}, L.plot));
  const gBar = grid.length;
  grid.push(Object.assign({}, L.bar));

  // image axes
  const xBottom = xAxis.length;
  xAxis.push({
    gridIndex: gPlot, type: 'value', min: PHI_MIN, max: PHI_MAX, position: 'bottom', z: 5,
    axisLine: { show: true, onZero: false, lineStyle: { color: FRAME, width: 1 } },
    axisTick: { show: false },
    axisLabel: Object.assign({ customValues: phiTicks, margin: 9 }, lbl),
    splitLine: { show: false },
    name: xAxisName, nameLocation: 'middle', nameGap: 35,
    nameTextStyle: { color: INK, fontSize: 25, fontFamily: SANS }
  });
  xAxis.push({
    gridIndex: gPlot, type: 'value', min: PHI_MIN, max: PHI_MAX, position: 'top', z: 5,
    axisLine: { show: true, onZero: false, lineStyle: { color: FRAME, width: 1 } },
    axisTick: { show: true, inside: true, length: 4, customValues: phiTicks, lineStyle: { color: '#222' } },
    axisLabel: { show: false }, splitLine: { show: false }
  });
  const yLeft = yAxis.length;
  yAxis.push({
    gridIndex: gPlot, type: 'value', min: TH_MIN, max: TH_MAX, inverse: true, position: 'left', z: 5,
    axisLine: { show: true, onZero: false, lineStyle: { color: FRAME, width: 1 } },
    axisTick: { show: false },
    axisLabel: Object.assign({ customValues: thetaTicks, margin: 8 }, lbl),
    splitLine: { show: false },
    name: yAxisName, nameLocation: 'middle', nameGap: 50, nameRotate: 90,
    nameTextStyle: { color: INK, fontSize: 25, fontFamily: SANS }
  });
  yAxis.push({
    gridIndex: gPlot, type: 'value', min: TH_MIN, max: TH_MAX, inverse: true, position: 'right', z: 5,
    axisLine: { show: true, onZero: false, lineStyle: { color: FRAME, width: 1 } },
    axisTick: { show: false }, axisLabel: { show: false }, splitLine: { show: false }
  });

  // colour bar axes
  const xBar = xAxis.length;
  xAxis.push({ gridIndex: gBar, type: 'value', min: 0, max: 1, show: false });
  const yBar = yAxis.length;
  yAxis.push({
    gridIndex: gBar, type: 'value', min: barRange[0], max: barRange[1], position: 'right', z: 5,
    axisLine: { show: false },
    axisTick: { show: true, inside: true, length: 5, customValues: barTicks, lineStyle: { color: '#333' } },
    axisLabel: Object.assign({ customValues: barTicks, margin: 7 }, lbl),
    splitLine: { show: false }
  });
  yAxis.push({
    gridIndex: gBar, type: 'value', min: barRange[0], max: barRange[1], position: 'left', z: 5,
    axisLine: { show: false },
    axisTick: { show: true, inside: true, length: 5, customValues: barTicks, lineStyle: { color: '#333' } },
    axisLabel: { show: false }, splitLine: { show: false }
  });

  series.push({
    type: 'custom', name: panelTitles[k], xAxisIndex: xBottom, yAxisIndex: yLeft,
    renderItem: renderCell, data: toCells(fields[k]),
    encode: { x: 0, y: 1 }, silent: true, z: 2
  });
  series.push({
    type: 'custom', xAxisIndex: xBar, yAxisIndex: yBar,
    renderItem: renderBar, data: [[0, barRange[0]]],
    encode: { x: 0, y: 1 }, silent: true, z: 2
  });

  title.push({
    text: panelTags[k], left: L.tag[0], top: L.tag[1], padding: 0,
    textStyle: { color: INK, fontSize: 27, fontWeight: 'normal', fontFamily: SERIF }
  });
  title.push({
    text: panelTitles[k], left: L.title[0], top: L.title[1], padding: 0,
    textStyle: { color: INK, fontSize: 25, fontWeight: 'normal', fontFamily: SANS }
  });
});

const chart = echarts.init(document.getElementById('chart'), null, { renderer: 'canvas' });
chart.setOption({
  backgroundColor: '#ffffff',
  animation: false,
  title,
  grid,
  xAxis,
  yAxis,
  visualMap: {
    type: 'continuous', show: false, min: barRange[0], max: barRange[1],
    dimension: 2, seriesIndex: [0, 2, 4, 6],
    inRange: { color: JET }
  },
  series
});
</script>
</body>
</html>
